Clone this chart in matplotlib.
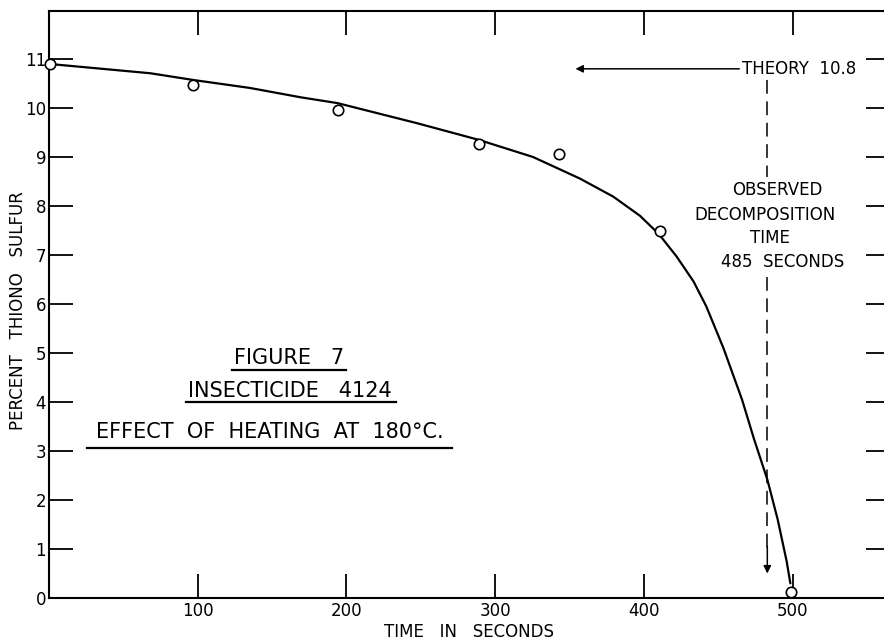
import matplotlib
matplotlib.use("Agg")
import matplotlib.pyplot as plt

# measured points (open circles)
time_obs = [1, 97, 194, 289, 343, 411, 499]
sulfur_obs = [10.9, 10.47, 9.96, 9.27, 9.06, 7.48, 0.12]

# hand drawn curve
time_curve = [0, 68, 97.5, 135, 169, 194, 247.5, 289, 325.5, 357, 379.5, 397.4, 410,
              422, 433.4, 442, 453.5, 466, 474, 483, 490, 496, 498.5]
sulfur_curve = [10.9, 10.71, 10.57, 10.41, 10.22, 10.10, 9.69, 9.35, 9.0, 8.56, 8.19, 7.8, 7.43,
                6.97, 6.46, 5.95, 5.1, 4.05, 3.25, 2.42, 1.6, 0.75, 0.3]

theory_value = 10.8
decomp_time = 483

x_ticks = [100, 200, 300, 400, 500]
y_ticks = list(range(0, 12))

plt.rcParams['font.family'] = ['DejaVu Sans']
fs = 12

fig = plt.figure(figsize=(8.84, 6.4), dpi=100)
# right side of the frame runs off the sheet, like the scan
ax = fig.add_axes([49/884, 42/640, 841/884, 587/640])
ax.set_xlim(0, 565.5)
ax.set_ylim(0, 11.98)

for s in ax.spines.values():
    s.set_linewidth(1.5)
ax.spines['right'].set_visible(False)

ax.set_xticks(x_ticks)
ax.set_yticks(y_ticks)
ax.tick_params(direction='in', length=17, width=1.3, labelsize=fs, pad=3,
               top=True, right=True)
ax.tick_params(axis='y', pad=2)

ax.plot(time_curve, sulfur_curve, color='black', lw=1.6,
        solid_capstyle='round', solid_joinstyle='round')
ax.plot(time_obs, sulfur_obs, 'o', mfc='white', mec='black', mew=1.2, ms=7.5,
        clip_on=False, zorder=5)

# theory marker
ax.annotate('THEORY  10.8', xy=(354, theory_value), xytext=(466, theory_value),
            ha='left', va='center', fontsize=fs,
            arrowprops=dict(arrowstyle='-|>', color='black', lw=1.1,
                            mutation_scale=11, shrinkA=0, shrinkB=0))

# observed decomposition time
ax.plot([decomp_time, decomp_time], [10.57, 8.6], color='black', lw=1.1,
        linestyle=(0, (9, 5)))
ax.plot([decomp_time, decomp_time], [6.55, 1.0], color='black', lw=1.1,
        linestyle=(0, (9, 5)))
ax.annotate('', xy=(decomp_time, 0.5), xytext=(decomp_time, 1.05),
            arrowprops=dict(arrowstyle='-|>', color='black', lw=1.1,
                            mutation_scale=11, shrinkA=0, shrinkB=0))

obs_lines = [('OBSERVED', 489.5, 8.33), ('DECOMPOSITION', 481.5, 7.82),
             ('TIME', 485, 7.35), ('485  SECONDS', 493, 6.86)]
for txt, xx, yy in obs_lines:
    ax.text(xx, yy, txt, ha='center', va='center', fontsize=fs)

# title block with underlines
titles = [('FIGURE   7', 161.5, 4.90, 4.65, 123, 200),
          ('INSECTICIDE   4124', 162, 4.22, 4.0, 92, 233),
          ('EFFECT  OF  HEATING  AT  180°C.', 148.5, 3.39, 3.06, 25.6, 271)]
for txt, xx, yy, yline, x0, x1 in titles:
    ax.text(xx, yy, txt, ha='center', va='center', fontsize=15)
    ax.plot([x0, x1], [yline, yline], color='black', lw=1.6)

ax.set_xlabel('TIME   IN   SECONDS', fontsize=fs, labelpad=2)
ax.set_ylabel('PERCENT   THIONO   SULFUR', fontsize=fs, va='center')
ax.yaxis.set_label_coords(-0.037, 0.49)

fig.savefig('out.png', dpi=100)
